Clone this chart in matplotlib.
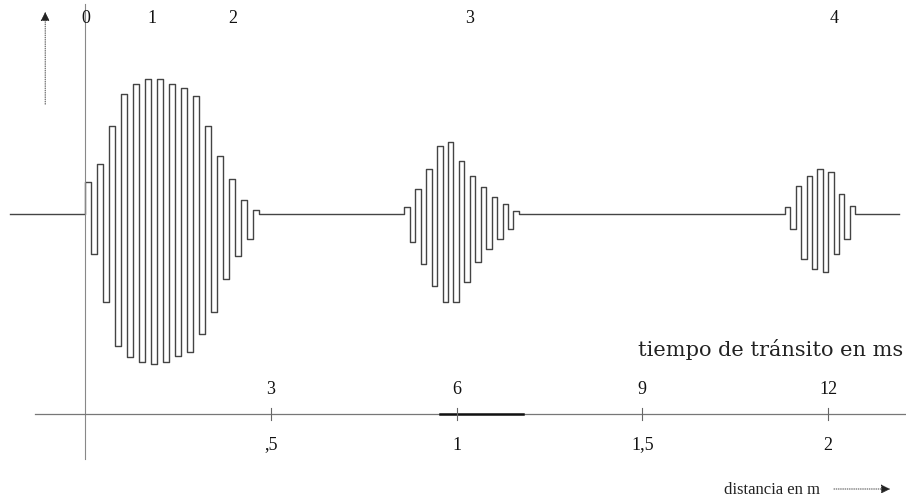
#!/usr/bin/env python3

from matplotlib import pyplot as plt
import numpy as np

plt.rcParams['font.family'] = ['Liberation Serif', 'DejaVu Serif']

# --- datos (tiempo en unidades del eje, amplitud en unidades arbitrarias) ---

# eco 1 (pulso emitido)
t1_start = 0.04
t1_half = 0.097
amp1 = [32, -40, 50, -88, 88, -132, 120, -143, 130, -148, 135, -150, 135, -148,
        130, -142, 126, -138, 118, -120, 88, -98, 58, -65, 35, -42, 14, -25, 4]

# eco 3
t2_start = 5.20
t2_half = 0.088
amp2 = [7, -28, 25, -50, 45, -72, 68, -88, 72, -88, 53, -68, 38, -48,
        27, -35, 17, -25, 10, -15, 3]

# eco 4
t3_start = 11.35
t3_half = 0.087
amp3 = [7, -15, 28, -45, 38, -55, 45, -58, 42, -40, 20, -25, 8]

baseline_start = -1.22
baseline_end = 13.14

# etiquetas superiores (numero de eco)
echo_labels = ['0', '1', '2', '3', '4']
echo_times = [0, 1.08, 2.38, 6.21, 12.1]

# eje de tiempo y distancia
time_ticks = [3, 6, 9, 12]
time_labels = ['3', '6', '9', '12']
dist_labels = [',5', '1', '1,5', '2']

# --- construir la senal ---
def burst(t0, half, amps):
    t = t0 + half * np.arange(-1, len(amps) + 1)
    a = np.concatenate([[0], amps, [0]])
    return t, a

xs = [np.array([baseline_start])]
ys = [np.array([0.0])]
for t0, h, a in [(t1_start, t1_half, amp1), (t2_start, t2_half, amp2), (t3_start, t3_half, amp3)]:
    t, v = burst(t0, h, a)
    xs.append(t)
    ys.append(v)
xs.append(np.array([baseline_end]))
ys.append(np.array([0.0]))
x = np.concatenate(xs)
y = np.concatenate(ys)

fig = plt.figure(figsize=(9.06, 5.02), dpi=100)
ax = fig.add_axes([0, 0, 1, 1])
ax.set_xlim(-1.38, 13.26)
ax.set_ylim(-287, 215)
ax.axis('off')

# senal
ax.plot(x, y, drawstyle='steps-mid', color='#444444', lw=1.0)

# eje vertical (t = 0)
ax.plot([0, 0], [210, -245], color='#888888', lw=0.8)

# flecha de amplitud a la izquierda
ax.annotate('', xy=(-0.65, 205), xytext=(-0.65, 107),
            arrowprops=dict(arrowstyle='-|>', color='#222222', lw=0.6,
                            linestyle=':', mutation_scale=14))

# eje de tiempo
axis_y = -200
ax.plot([-0.81, 13.26], [axis_y, axis_y], color='#777777', lw=0.9)
ax.plot([5.73, 7.07], [axis_y, axis_y], color='#111111', lw=1.8)
for t in time_ticks:
    ax.plot([t, t], [axis_y - 6, axis_y + 6], color='#666666', lw=0.8)

# textos
for lab, t in zip(echo_labels, echo_times):
    ax.text(t, 197, lab, ha='center', va='center', fontsize=13, color='#111111')
for t, lab in zip(time_ticks, time_labels):
    ax.text(t, -174, lab, ha='center', va='center', fontsize=13, color='#111111')
for t, lab in zip(time_ticks, dist_labels):
    ax.text(t, -230, lab, ha='center', va='center', fontsize=13, color='#111111')

ax.text(13.22, -135, 'tiempo de tránsito en ms', ha='right', va='center',
        fontsize=15, color='#222222', family='DejaVu Serif')
ax.text(11.09, -275, 'distancia en m', ha='center', va='center',
        fontsize=12, color='#222222')
ax.annotate('', xy=(13.05, -275), xytext=(12.05, -275),
            arrowprops=dict(arrowstyle='-|>', color='#222222', lw=0.6,
                            linestyle=':', mutation_scale=14))

plt.savefig('out.png', dpi=100)
